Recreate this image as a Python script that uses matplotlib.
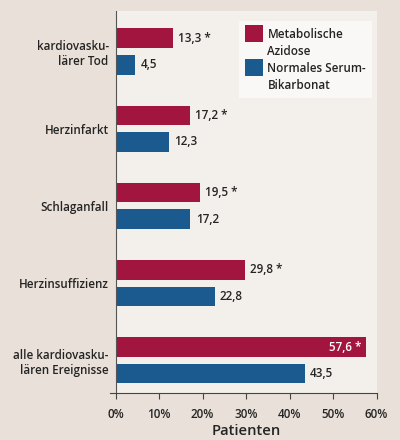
import matplotlib
matplotlib.use("Agg")
import matplotlib.pyplot as plt
from matplotlib.patches import Patch
import numpy as np

categories = ["kardiovasku-\nlärer Tod", "Herzinfarkt", "Schlaganfall",
              "Herzinsuffizienz", "alle kardiovasku-\nlären Ereignisse"]
azidose = [13.3, 17.2, 19.5, 29.8, 57.6]
normal = [4.5, 12.3, 17.2, 22.8, 43.5]
azidose_labels = ["13,3 *", "17,2 *", "19,5 *", "29,8 *", "57,6 *"]
normal_labels = ["4,5", "12,3", "17,2", "22,8", "43,5"]
xticks = [0, 10, 20, 30, 40, 50, 60]
xticklabels = ["0%", "10%", "20%", "30%", "40%", "50%", "60%"]
series_names = [["Metabolische", "Azidose"], ["Normales Serum-", "Bikarbonat"]]

RED = "#a2153f"
BLUE = "#1b5a8e"
BG = "#e9e1d9"
PANEL = "#f3efea"
TXT = "#242424"
FONT = ["Open Sans", "DejaVu Sans"]
plt.rcParams["font.family"] = FONT

fig = plt.figure(figsize=(4.0, 4.4), dpi=100, facecolor=BG)
ax = fig.add_axes([0.289, 0.1075, 0.6525, 0.8675], facecolor=PANEL)

y = np.arange(len(categories))
off = 0.172
h = 0.253
ax.barh(y - off, azidose, height=h, color=RED, zorder=2)
ax.barh(y + off, normal, height=h, color=BLUE, zorder=2)

fs = 8.4
for i, (v, lab) in enumerate(zip(azidose, azidose_labels)):
    if v > 50:
        ax.text(v - 1.2, i - off, lab, ha="right", va="center", color="white",
                fontsize=fs, fontweight="semibold")
    else:
        ax.text(v + 1.0, i - off, lab, ha="left", va="center", color=TXT,
                fontsize=fs, fontweight="semibold")
for i, (v, lab) in enumerate(zip(normal, normal_labels)):
    ax.text(v + 1.2, i + off, lab, ha="left", va="center", color=TXT,
            fontsize=fs, fontweight="semibold")

ax.set_xlim(0, 60)
ax.set_ylim(4.42, -0.525)
ax.set_yticks(y)
ax.set_yticklabels(categories, fontsize=fs, fontweight="semibold", color=TXT,
                   ha="right", multialignment="right", linespacing=1.2)
ax.tick_params(axis="y", length=0, pad=5)
ax.set_xticks(xticks)
ax.set_xticklabels(xticklabels, fontsize=fs, fontweight="semibold", color=TXT)
ax.tick_params(axis="x", length=4, width=0.8, color="#444444", pad=7, direction="out")
ax.set_xlabel("Patienten", fontsize=10.6, fontweight="semibold", color=TXT, labelpad=2)

for s in ["top", "right"]:
    ax.spines[s].set_visible(False)
ax.spines["left"].set_color("#555555")
ax.spines["left"].set_linewidth(0.8)
ax.spines["bottom"].set_color("#444444")
ax.spines["bottom"].set_linewidth(0.8)
ax.spines["bottom"].set_bounds(-1.3, 60)

handles, labels = [], []
for col, names in zip([RED, BLUE], series_names):
    handles.append(Patch(facecolor=col, edgecolor="none"))
    labels.append(names[0])
    handles.append(Patch(facecolor="none", edgecolor="none"))
    labels.append(names[1])
leg = ax.legend(handles, labels, loc="upper right", bbox_to_anchor=(0.982, 0.974),
                borderaxespad=0, frameon=True, fancybox=False, facecolor="#faf8f6",
                edgecolor="none", framealpha=1, prop={"size": fs, "weight": "semibold"},
                handlelength=1.54, handleheight=1.46, handletextpad=0.42,
                labelspacing=0.27, borderpad=0.5)
for t in leg.get_texts():
    t.set_color(TXT)
# enlarge the coloured squares so they span one text row (as in the original)
for r in leg.legend_handles:
    hgt = r.get_height()
    cy = r.get_y() + hgt / 2
    new_h = 12.2
    r.set_y(cy - new_h / 2)
    r.set_height(new_h)

fig.savefig("out.png", dpi=100, facecolor=BG)
